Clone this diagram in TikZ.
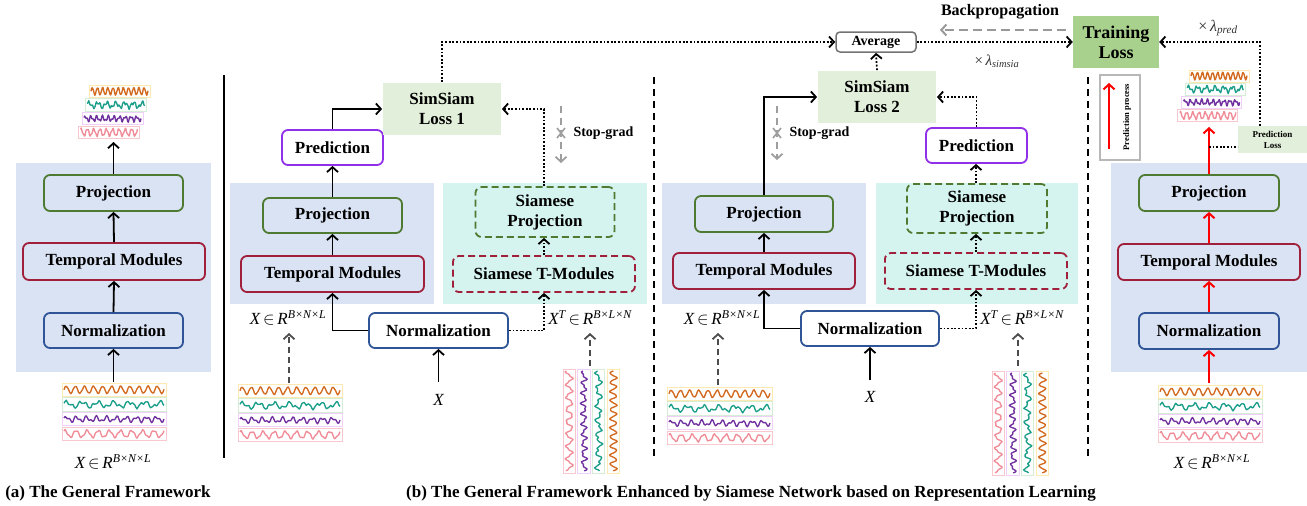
\documentclass[tikz,border=0pt]{standalone}
\usepackage{fontspec}
\setmainfont{Liberation Serif}
\usetikzlibrary{arrows.meta}
\definecolor{bgblue}{HTML}{DAE3F3}
\definecolor{bgcyan}{HTML}{D5F3EF}
\definecolor{cgreen}{HTML}{4E7A32}
\definecolor{cred}{HTML}{A01F3A}
\definecolor{cblue}{HTML}{2F5597}
\definecolor{cpurp}{HTML}{9030E8}
\definecolor{lgreen}{HTML}{E2EFDA}
\definecolor{tgreen}{HTML}{A9D18E}
\definecolor{wOr}{HTML}{D2691E}\definecolor{bOr}{HTML}{FFE9B0}
\definecolor{wTe}{HTML}{1B9E8A}\definecolor{bTe}{HTML}{D5EDD5}
\definecolor{wPu}{HTML}{7030A0}\definecolor{bPu}{HTML}{F0D0F8}
\definecolor{wPi}{HTML}{F08C98}\definecolor{bPi}{HTML}{F8C8CE}
\newcommand{\fb}{\fontsize{17}{20}\selectfont\bfseries}
\newcommand{\fl}{\fontsize{17}{19}\selectfont}
\newcommand{\XR}[1]{{\itshape X}\,$\in$\,{\itshape R}\textsuperscript{\itshape #1}}
\newcommand{\hrow}[7]{%
 \draw[#6,line width=1pt] (#1,#2) rectangle ++(#3,#4);
 \draw[#5,line width=1.35pt,line join=round] plot[domain=0:1,samples=90] ({#1+2+(#3-4)*\x},{#2+#4/2+(#7)});}
\newcommand{\hstack}[5]{%
 \hrow{#1}{#2}{#3}{#4}{wOr}{bOr}{-3.6*sin(\x*3960)-0.5*sin(\x*9100)}%
 \hrow{#1-#5}{#2+#4+1.2}{#3}{#4}{wTe}{bTe}{-2.4*sin(\x*2300+30)-1.6*sin(\x*5300)+0.5*sin(\x*11000)}%
 \hrow{#1-2*#5}{#2+2*#4+2.4}{#3}{#4}{wPu}{bPu}{-2.2*sin(\x*3600)-1.5*sin(\x*6800+50)}%
 \hrow{#1-3*#5}{#2+3*#4+3.6}{#3}{#4}{wPi}{bPi}{-3.4*sin(\x*3240+60)-1.0*sin(\x*8300)}}
\newcommand{\vcol}[7]{%
 \draw[#6,line width=1pt] (#1,#2) rectangle ++(#3,#4);
 \draw[#5,line width=1.35pt,line join=round] plot[domain=0:1,samples=100] ({#1+#3/2+(#7)},{#2+2+(#4-4)*\x});}
\newcommand{\vstack}[4]{%
 \vcol{#1}{#2}{#3}{#4}{wPi}{bPi}{-3.2*sin(\x*2900+60)-0.9*sin(\x*8300)}%
 \vcol{#1+#3+2.2}{#2}{#3}{#4}{wPu}{bPu}{-2.2*sin(\x*3600)-1.4*sin(\x*6800+50)}%
 \vcol{#1+2*#3+4.4}{#2}{#3}{#4}{wTe}{bTe}{-2.3*sin(\x*2300+30)-1.5*sin(\x*5300)+0.5*sin(\x*11000)}%
 \vcol{#1+3*#3+6.6}{#2}{#3}{#4}{wOr}{bOr}{-3.4*sin(\x*3960)-0.5*sin(\x*9100)}}
\tikzset{
 mbox/.style={rounded corners=6pt, line width=1.8pt, font=\fb, inner sep=0pt, align=center, text=black},
 arr/.style={line width=1.8pt, -{Straight Barb[length=5pt,width=11pt]}},
 rarr/.style={red, line width=2pt, -{Straight Barb[length=5pt,width=11pt]}},
 dot/.style={line width=1.8pt, dash pattern=on 1.8pt off 1.8pt},
 dotarr/.style={dot, -{Straight Barb[length=5pt,width=11pt]}},
 garr/.style={black!70, line width=1.8pt, dash pattern=on 6pt off 4pt, -{Straight Barb[length=5pt,width=11pt]}},
 sgarr/.style={black!38, line width=1.8pt, dash pattern=on 7pt off 5pt, -{Straight Barb[length=5pt,width=11pt]}},
 sep/.style={line width=2pt, dash pattern=on 7pt off 5pt},
}
\begin{document}
\begin{tikzpicture}[x=1pt,y=-1pt]
\useasboundingbox (0,0) rectangle (1307,506);
% ---------------- backgrounds
\fill[bgblue] (16,163) rectangle (211,372);
\fill[bgblue] (230,183) rectangle (434,304);
\fill[bgcyan] (443,183) rectangle (647,304);
\fill[bgblue] (662,183) rectangle (866,304);
\fill[bgcyan] (876,183) rectangle (1078,304);
\fill[bgblue] (1111,163) rectangle (1307,372);
% ---------------- panel (a)
\node[mbox,draw=cgreen,minimum width=139pt,minimum height=36pt] (aP) at (113.5,193) {Projection};
\node[mbox,draw=cred,minimum width=182pt,minimum height=37pt] (aT) at (114,261.5) {Temporal Modules};
\node[mbox,draw=cblue,minimum width=139pt,minimum height=35pt] (aN) at (113.5,330.5) {Normalization};
\coordinate (aIn) at (113.5,382);
\coordinate (aOut) at (113.5,142);
\draw[arr] (aIn) -- (aN.south);
\draw[arr] (aN.north) -- (aT.south);
\draw[arr] (aT.north) -- (aP.south);
\draw[arr] (aP.north) -- (aOut);
\hstack{62}{383}{104}{13.5}{0}
\hstack{89}{85}{61}{12.5}{3.5}
\node[font=\fl] (aX) at (113,462) {\XR{B×N×L}};
\node[font=\fb] (capA) at (108,493) {(a) The General Framework};
\draw[line width=2pt] (224,75) -- (224,458);
% ---------------- panel (b) left half
\node[mbox,draw=cgreen,minimum width=139pt,minimum height=35pt] (b1P) at (332.5,215.5) {Projection};
\node[mbox,draw=cred,minimum width=183pt,minimum height=36pt] (b1T) at (332.5,274) {Temporal Modules};
\node[mbox,draw=cpurp,fill=white,minimum width=101pt,minimum height=35pt] (b1R) at (332.5,147.5) {Prediction};
\node[mbox,rounded corners=0pt,fill=lgreen,minimum width=118pt,minimum height=52pt] (b1S) at (442,109) {SimSiam\\Loss 1};
\node[mbox,draw=cgreen,dash pattern=on 7pt off 4pt,minimum width=139pt,minimum height=50pt] (b1SP) at (545,212) {Siamese\\Projection};
\node[mbox,draw=cred,dash pattern=on 7pt off 4pt,minimum width=182pt,minimum height=36pt] (b1ST) at (544,274) {Siamese T-Modules};
\node[mbox,draw=cblue,fill=white,minimum width=139pt,minimum height=35pt] (b1N) at (438.5,330.5) {Normalization};
\draw[arr] (b1N.west) -| (b1T.south);
\draw[arr] (b1T.north) -- (b1P.south);
\draw[arr] (b1P.north) -- (b1R.south);
\draw[arr] (b1R.north) |- (b1S.west);
\draw[dotarr] (b1N.east) -| (b1ST.south);
\draw[dotarr] (b1ST.north) -- (b1ST.north |- b1SP.south);
\draw[dotarr] (b1ST.north |- b1SP.north) |- (b1S.east);
\coordinate (x1in) at (438.5,382);
\node[font=\fl\itshape] (x1) at (438.5,400) {X};
\draw[arr] (x1in) -- (b1N.south);
\node[font=\fl] (b1X) at (288,318) {\XR{B×N×L}};
\node[font=\fl] (b1XT) at (590,318) {{\itshape X}\textsuperscript{\itshape T}\,$\in$\,{\itshape R}\textsuperscript{\itshape B×L×N}};
\hstack{238}{384}{104}{13.5}{0}
\vstack{563}{369}{12.5}{104}
\coordinate (g1a) at (289,383); \coordinate (g1b) at (289,333);
\coordinate (g2a) at (590,366); \coordinate (g2b) at (590,333);
\draw[garr] (g1a) -- (g1b);
\draw[garr] (g2a) -- (g2b);
% stop-grad 1
\coordinate (s1a) at (561,106); \coordinate (s1b) at (561,163);
\draw[sgarr] (s1a) -- (s1b);
\draw[black!38,line width=1.6pt] (557,128) -- (565,138) (565,128) -- (557,138);
\node[font=\fontsize{14}{16}\selectfont\bfseries,anchor=west] (sg1) at (570,133) {Stop-grad};
\draw[sep] (654,77) -- (654,457);
% ---------------- panel (b) right half
\node[mbox,draw=cgreen,minimum width=138pt,minimum height=36pt] (b2P) at (764,214) {Projection};
\node[mbox,draw=cred,minimum width=182pt,minimum height=36pt] (b2T) at (764,271) {Temporal Modules};
\node[mbox,draw=cblue,fill=white,minimum width=138pt,minimum height=35pt] (b2N) at (870,328.5) {Normalization};
\node[mbox,rounded corners=0pt,fill=lgreen,minimum width=118pt,minimum height=52pt] (b2S) at (877,97) {SimSiam\\Loss 2};
\node[mbox,draw=cpurp,fill=white,minimum width=101pt,minimum height=35pt] (b2R) at (976.5,145.5) {Prediction};
\node[mbox,draw=cgreen,dash pattern=on 7pt off 4pt,minimum width=140pt,minimum height=49pt] (b2SP) at (977,208.5) {Siamese\\Projection};
\node[mbox,draw=cred,dash pattern=on 7pt off 4pt,minimum width=182pt,minimum height=36pt] (b2ST) at (976,271) {Siamese T-Modules};
\node[rounded corners=4pt,draw=black!55,line width=1.5pt,fill=white,font=\fontsize{14}{16}\selectfont\bfseries,minimum width=80pt,minimum height=20pt,inner sep=0pt] (avg) at (876,42) {Average};
\node[fill=tgreen,font=\fontsize{18}{20}\selectfont\bfseries,align=center,minimum width=86pt,minimum height=52pt,inner sep=0pt] (TL) at (1116,42) {Training\\Loss};
\draw[arr] (b2N.west) -| (b2T.south);
\draw[arr] (b2T.north) -- (b2P.south);
\draw[arr] (b2P.north) |- (b2S.west);
\draw[dotarr] (b2N.east) -| (b2ST.south);
\draw[dotarr] (b2ST.north) -- (b2ST.north |- b2SP.south);
\draw[dotarr] (b2ST.north |- b2SP.north) -- (b2ST.north |- b2R.south);
\draw[dotarr] (b2R.north) |- (b2S.east);
\draw[dotarr] (b2S.north) -- (avg.south);
\draw[dotarr] (b1S.north) |- (avg.west);
\draw[dotarr] (avg.east) -- (TL.west);
\node[font=\fontsize{15}{17}\selectfont,text=black!80] (lsim) at (997,61) {×\,\textit{λ}\textsubscript{\itshape simsia}};
\coordinate (bpa) at (1066,30); \coordinate (bpb) at (940,30);
\draw[black!40,line width=2pt,dash pattern=on 9pt off 5pt,-{Straight Barb[length=5pt,width=11pt]}] (bpa) -- (bpb);
\node[font=\fontsize{16}{18}\selectfont\bfseries] (bp) at (1000,12) {Backpropagation};
\coordinate (x2in) at (870,380);
\node[font=\fl\itshape] (x2) at (870,397) {X};
\draw[arr] (x2in) -- (b2N.south);
\node[font=\fl] (b2X) at (722,318) {\XR{B×N×L}};
\node[font=\fl] (b2XT) at (1022,318) {{\itshape X}\textsuperscript{\itshape T}\,$\in$\,{\itshape R}\textsuperscript{\itshape B×L×N}};
\hstack{667}{387}{105}{13.5}{0}
\vstack{992}{371}{12.5}{104}
\coordinate (g3a) at (718,385); \coordinate (g3b) at (718,333);
\coordinate (g4a) at (1018,366); \coordinate (g4b) at (1018,333);
\draw[garr] (g3a) -- (g3b);
\draw[garr] (g4a) -- (g4b);
% stop-grad 2
\coordinate (s2a) at (777,106); \coordinate (s2b) at (777,160);
\draw[sgarr] (s2a) -- (s2b);
\draw[black!38,line width=1.6pt] (773,128) -- (781,138) (781,128) -- (773,138);
\node[font=\fontsize{14}{16}\selectfont\bfseries,anchor=west] (sg2) at (786,133) {Stop-grad};
\draw[sep] (1088,77) -- (1088,457);
\node[font=\fb] (capB) at (751,493) {(b) The General Framework Enhanced by Siamese Network based on Representation Learning};
% ---------------- right panel
\node[mbox,draw=cgreen,minimum width=140pt,minimum height=36pt] (cP) at (1209,193) {Projection};
\node[mbox,draw=cred,minimum width=182pt,minimum height=36pt] (cT) at (1209,262) {Temporal Modules};
\node[mbox,draw=cblue,minimum width=140pt,minimum height=36pt] (cN) at (1209,331) {Normalization};
\coordinate (cIn) at (1209,383);
\coordinate (cOut) at (1209,127);
\draw[rarr] (cIn) -- (cN.south);
\draw[rarr] (cN.north) -- (cT.south);
\draw[rarr] (cT.north) -- (cP.south);
\draw[rarr] (cP.north) -- (cOut);
\hstack{1158}{385}{104}{13.5}{0}
\hstack{1189}{70}{60}{12}{3.7}
\node[font=\fl] (cX) at (1212,462) {\XR{B×N×L}};
\node[fill=lgreen,font=\fontsize{9}{11}\selectfont\bfseries,align=center,minimum width=69pt,minimum height=27pt,inner sep=0pt] (cPL) at (1272.5,139.5) {Prediction\\Loss};
\coordinate (rj) at (1209,147);
\draw[dot] (rj) -- (rj -| cPL.west);
\coordinate (plt) at (1260,126);
\draw[dotarr] (plt) |- (TL.east);
\node[font=\fontsize{16}{18}\selectfont,text=black!80] (lpred) at (1218,28) {×\,\textit{λ}\textsubscript{\itshape pred}};
% legend
\node[draw=black!28,line width=2.5pt,minimum width=40pt,minimum height=85pt,inner sep=0pt] (leg) at (1120,117.5) {};
\coordinate (la) at (1109,149); \coordinate (lb) at (1109,83);
\draw[rarr] (la) -- (lb);
\node[rotate=90,font=\fontsize{8.5}{10}\selectfont\bfseries] (legt) at (1127,117) {Prediction process};
\end{tikzpicture}
\end{document}
